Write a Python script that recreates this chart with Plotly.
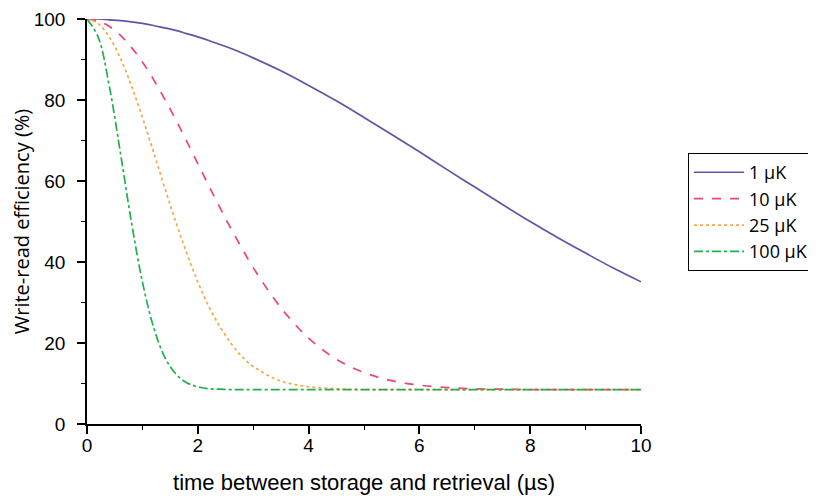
import plotly.graph_objects as go

# time axis (µs)
time_us = [0, 0.2, 0.4, 0.6, 0.8, 1.0, 1.2, 1.4, 1.6, 1.8, 2.0, 2.2, 2.4, 2.6, 2.8, 3.0,
           3.5, 4.0, 4.5, 5.0, 5.5, 6.0, 6.5, 7.0, 7.5, 8.0, 8.5, 9.0, 9.5, 10.0]

# write-read efficiency (%) for each temperature
eff_1uK = [100.0, 100.0, 99.8, 99.6, 99.3, 98.9, 98.4, 97.8, 97.2, 96.4, 95.6, 94.7, 93.7, 92.7, 91.6, 90.4,
           87.2, 83.6, 79.8, 75.7, 71.5, 67.2, 62.8, 58.5, 54.2, 50.0, 46.0, 42.2, 38.5, 35.1]
eff_10uK = [100.0, 99.5, 98.2, 96.0, 93.0, 89.4, 85.1, 80.3, 75.2, 69.8, 64.3, 58.8, 53.4, 48.2, 43.3, 38.6,
            28.7, 21.2, 16.0, 12.7, 10.7, 9.6, 9.0, 8.7, 8.6, 8.5, 8.5, 8.5, 8.5, 8.5]
eff_25uK = [100.0, 98.9, 95.6, 90.4, 83.6, 75.7, 67.2, 58.5, 50.0, 42.2, 35.1, 29.0, 24.0, 19.9, 16.6, 14.2,
            10.6, 9.2, 8.7, 8.5, 8.5, 8.5, 8.5, 8.5, 8.5, 8.5, 8.5, 8.5, 8.5, 8.5]
eff_100uK = [100.0, 95.6, 83.6, 67.2, 50.0, 35.1, 24.0, 16.6, 12.4, 10.2, 9.2, 8.7, 8.6, 8.5, 8.5, 8.5,
             8.5, 8.5, 8.5, 8.5, 8.5, 8.5, 8.5, 8.5, 8.5, 8.5, 8.5, 8.5, 8.5, 8.5]

series_names = ["1 µK", "10 µK", "25 µK", "100 µK"]
series_vals = [eff_1uK, eff_10uK, eff_25uK, eff_100uK]
colors = ["#6651a8", "#ef4379", "#f6a747", "#1fb14b"]
dashes = ["solid", "dash", "dot", "dashdot"]

SANS = "Open Sans, Noto Sans, sans-serif"
ARIAL = "Liberation Sans, Arial, sans-serif"

fig = go.Figure()
for name, vals, c, d in zip(series_names, series_vals, colors, dashes):
    fig.add_trace(go.Scatter(
        x=time_us, y=vals, name=name, mode="lines",
        line=dict(color=c, width=1.7, dash=d, shape="spline", smoothing=1.0),
    ))

axis_common = dict(
    showline=True, linecolor="black", linewidth=1.6,
    ticks="outside", tickcolor="black", tickwidth=1.6, ticklen=8,
    showgrid=False, zeroline=False, mirror=False, automargin=False,
    ticklabeloverflow="allow",
    tickfont=dict(family=ARIAL, size=19, color="black"),
    minor=dict(ticks="outside", ticklen=4, tickwidth=1.2, tickcolor="black", showgrid=False),
)

fig.update_xaxes(range=[0, 10], tickvals=[0, 2, 4, 6, 8, 10], minor_dtick=1,
                 ticklabelstandoff=-5,
                 title=dict(text="time between storage and retrieval (µs)",
                            font=dict(family=ARIAL, size=22, color="black"), standoff=20),
                 **axis_common)
fig.update_yaxes(range=[0, 100], tickvals=[0, 20, 40, 60, 80, 100], minor_dtick=10,
                 ticklabelstandoff=8,
                 title=dict(text="Write-read efficiency (%)",
                            font=dict(family=SANS, size=20, color="black"), standoff=10),
                 **axis_common)

fig.update_layout(
    width=816, height=498, autosize=False,
    margin=dict(l=79, r=182, t=11, b=82),
    paper_bgcolor="white", plot_bgcolor="white",
    legend=dict(x=1.083, y=0.669, xanchor="left", yanchor="top",
                bordercolor="black", borderwidth=1, bgcolor="white",
                font=dict(family=SANS, size=18, color="black"),
                itemwidth=50, tracegroupgap=0),
    showlegend=True,
)

fig.write_html("out.html")
